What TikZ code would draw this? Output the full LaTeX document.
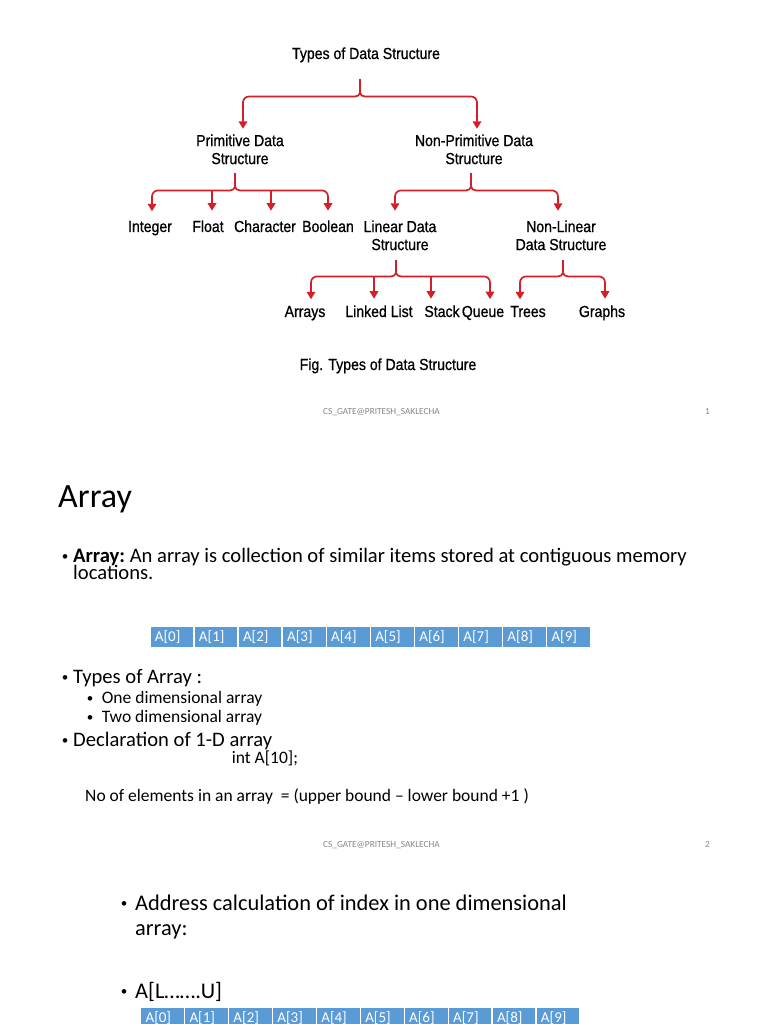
\documentclass[tikz,border=0pt]{standalone}
\usepackage{fontspec}
\setmainfont{Carlito}
\newfontfamily\treefont[FakeStretch=0.88,FakeBold=0.8]{Liberation Sans}
\usetikzlibrary{arrows.meta}
\definecolor{brred}{RGB}{214,30,38}
\definecolor{cellblue}{RGB}{91,155,213}
\definecolor{footgrey}{RGB}{135,135,135}
\newcommand\dsLeft[2]{\draw[arr] (#1) to[out=-90,in=0] ++(-5,4) {[rounded corners=6pt] -| (#2)};}
\newcommand\dsRight[2]{\draw[arr] (#1) to[out=-90,in=180] ++(5,4) {[rounded corners=6pt] -| (#2)};}
\newcommand\dsMid[2]{\draw[arr] (#2 |- #1) -- (#2);}
\newcommand\dsBul[1]{\raisebox{#1}{\fontsize{13}{13}\selectfont •}}
\begin{document}
\begin{tikzpicture}[x=1pt,y=-1pt,
  tlab/.style={font=\treefont\fontsize{16}{18}\selectfont, inner sep=0pt, align=center},
  lnk/.style={draw=brred, line width=1.7pt},
  arr/.style={lnk, -{Triangle[width=8.5pt,length=7.5pt]}},
  lv1/.style={font=\fontsize{20.6}{24}\selectfont, inner sep=0pt, anchor=base west},
  lv2/.style={font=\fontsize{17.5}{21}\selectfont, inner sep=0pt, anchor=base west},
  lv3/.style={font=\fontsize{22.4}{27}\selectfont, inner sep=0pt, anchor=base west},
  bul/.style={inner sep=0pt, anchor=base},
  foot/.style={font=\fontsize{9.3}{11}\selectfont, text=footgrey, inner sep=0pt, anchor=base west},
  cell/.style={fill=cellblue, draw=white, line width=1.2pt, text=white,
    font=\fontsize{15}{16}\selectfont, minimum height=21pt, minimum width=44pt,
    text width=34pt, inner xsep=5pt, inner ysep=0pt, align=left, anchor=north west}
]
\path[fill=white, use as bounding box] (0,0) rectangle (768,1024);
\clip (0,0) rectangle (768,1024);

% ---------- tree ----------
\node[tlab, anchor=base] (title) at (366,59) {Types of Data Structure};
\node[tlab, anchor=north] (prim) at (240,134.3) {Primitive Data\\Structure};
\node[tlab, anchor=north] (nonp) at (474,134.3) {Non-Primitive Data\\Structure};
\node[tlab, anchor=base] (int) at (150,232) {Integer};
\node[tlab, anchor=base] (flt) at (208,232) {Float};
\node[tlab, anchor=base] (chr) at (265,232) {Character};
\node[tlab, anchor=base] (bool) at (328,232) {Boolean};
\node[tlab, anchor=north] (lin) at (400,220.3) {Linear Data\\Structure};
\node[tlab, anchor=north] (nlin) at (561,220.3) {Non-Linear\\Data Structure};
\node[tlab, anchor=base] (arrs) at (305,317) {Arrays};
\node[tlab, anchor=base] (ll) at (379,317) {Linked List};
\node[tlab, anchor=base] (stk) at (442,317) {Stack};
\node[tlab, anchor=base] (que) at (483,317) {Queue};
\node[tlab, anchor=base] (tre) at (528,317) {Trees};
\node[tlab, anchor=base] (gra) at (602,317) {Graphs};
\node[tlab, anchor=base] (cap) at (388,370) {Fig. Types of Data Structure};

% group 1
\coordinate (j1) at ([shift={(-6,30)}]title.south);
\coordinate (tPrim) at ([shift={(3,-5.5)}]prim.north);
\coordinate (tNonp) at ([shift={(3,-5.5)}]nonp.north);
\draw[lnk] ([shift={(-6,16)}]title.south) -- (j1);
\dsLeft{j1}{tPrim}
\dsRight{j1}{tNonp}

% group 2a
\coordinate (j2) at ([shift={(-5,22)}]prim.south);
\coordinate (b2) at ([shift={(0,4)}]j2);
\coordinate (tInt) at ([shift={(2,-9.5)}]int.north);
\coordinate (tFlt) at ([shift={(4,-9.5)}]flt.north);
\coordinate (tChr) at ([shift={(6,-9.5)}]chr.north);
\coordinate (tBool) at ([shift={(0,-9.5)}]bool.north);
\draw[lnk] ([shift={(-5,9)}]prim.south) -- (j2);
\dsLeft{j2}{tInt}
\dsRight{j2}{tBool}
\dsMid{b2}{tFlt}
\dsMid{b2}{tChr}

% group 2b
\coordinate (j3) at ([shift={(-3,22)}]nonp.south);
\coordinate (tLin) at ([shift={(-5,-9.5)}]lin.north);
\coordinate (tNlin) at ([shift={(-3,-9.5)}]nlin.north);
\draw[lnk] ([shift={(-3,9)}]nonp.south) -- (j3);
\dsLeft{j3}{tLin}
\dsRight{j3}{tNlin}

% group 3a
\coordinate (j4) at ([shift={(-4,22)}]lin.south);
\coordinate (b4) at ([shift={(0,4)}]j4);
\coordinate (tArr) at ([shift={(6,-6.5)}]arrs.north);
\coordinate (tLl) at ([shift={(-5,-6.5)}]ll.north);
\coordinate (tStk) at ([shift={(-11,-6.5)}]stk.north);
\coordinate (tQue) at ([shift={(7,-6.5)}]que.north);
\draw[lnk] ([shift={(-4,10)}]lin.south) -- (j4);
\dsLeft{j4}{tArr}
\dsRight{j4}{tQue}
\dsMid{b4}{tLl}
\dsMid{b4}{tStk}

% group 3b
\coordinate (j5) at ([shift={(2,22)}]nlin.south);
\coordinate (tTre) at ([shift={(-8,-6.5)}]tre.north);
\coordinate (tGra) at ([shift={(3,-6.5)}]gra.north);
\draw[lnk] ([shift={(2,10)}]nlin.south) -- (j5);
\dsLeft{j5}{tTre}
\dsRight{j5}{tGra}

\node[foot] (f1) at (323,414) {CS\_GATE@PRITESH\_SAKLECHA};
\node[foot] (n1) at (705,414) {1};

% ---------- slide 2 ----------
\node[font=\fontsize{34}{40}\selectfont, inner sep=0pt, anchor=base west] (atitle) at (58,507) {Array};
\node[bul] (bu1) at (65,562) {\dsBul{1.5pt}};
\node[lv1, text depth=0pt] (l1) at (73,562) {\textbf{Array:}\ An array is collection of similar items stored at contiguous memory};
\node[lv1] (l1b) at (73,579) {locations.};
\foreach \i in {0,...,9} \node[cell] (ra\i) at ({149.3+44.07*\i},626) {A[\i]};
\node[bul] (bu2) at (65,683) {\dsBul{1.5pt}};
\node[lv1] (l2) at (73,683) {Types of Array :};
\node[bul] (bu3) at (90,703) {\dsBul{1pt}};
\node[lv2] (l3) at (101.7,703) {One dimensional array};
\node[bul] (bu4) at (90,722) {\dsBul{1pt}};
\node[lv2] (l4) at (101.7,722) {Two dimensional array};
\node[bul] (bu5) at (65,746) {\dsBul{1.5pt}};
\node[lv1] (l5) at (73,746) {Declaration of 1-D array};
\node[lv2] (l6) at (231.7,763) {int A[10];};
\node[lv2] (l7) at (85,801) {No of elements in an array\ \ = (upper bound – lower bound +1 )};
\node[foot] (f2) at (323,847) {CS\_GATE@PRITESH\_SAKLECHA};
\node[foot] (n2) at (705,847) {2};

% ---------- slide 3 ----------
\node[bul] (bu6) at (124,910) {\dsBul{2.5pt}};
\node[lv3] (l8) at (135,910) {Address calculation of index in one dimensional};
\node[lv3] (l9) at (135,935) {array:};
\node[bul] (bu7) at (124,998) {\dsBul{2.5pt}};
\node[lv3] (l10) at (135,998) {A[L…….U]};
\foreach \i in {0,...,9} \node[cell] (rb\i) at ({140+43.93*\i},1006.7) {A[\i]};
\end{tikzpicture}
\end{document}
